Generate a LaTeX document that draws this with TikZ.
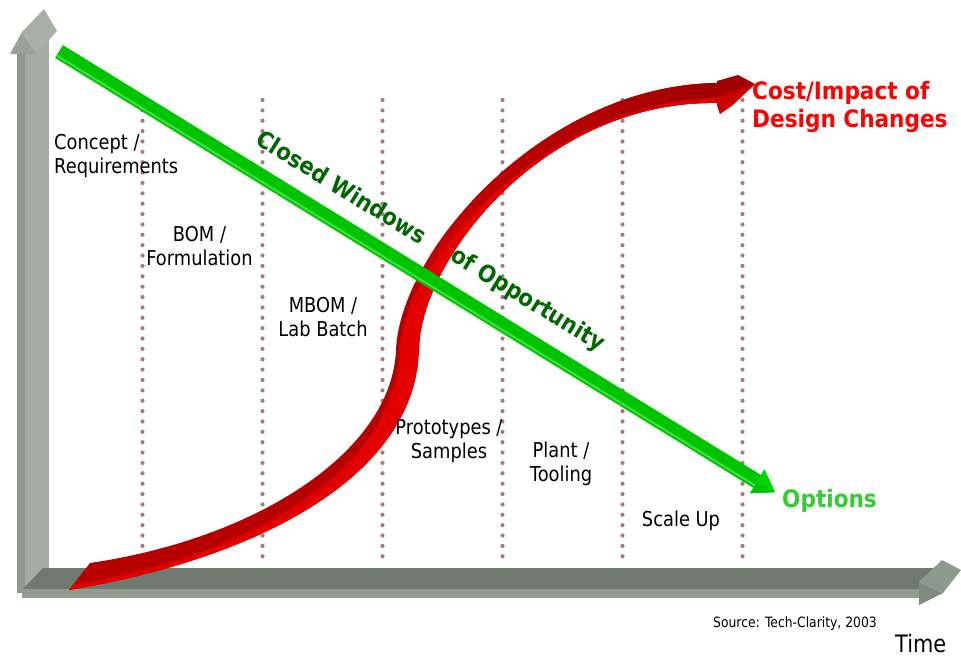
\documentclass[tikz,border=0pt]{standalone}
\usepackage{fontspec}
\setmainfont{DejaVu Sans}[FakeStretch=0.87,BoldFeatures={FakeStretch=0.9}]
\usetikzlibrary{calc}
\definecolor{vfront}{RGB}{165,173,162}
\definecolor{vside}{RGB}{143,152,140}
\definecolor{vheadL}{RGB}{152,161,149}
\definecolor{vheadR}{RGB}{168,176,165}
\definecolor{htop}{RGB}{111,121,111}
\definecolor{hfront}{RGB}{145,155,143}
\definecolor{hheadU}{RGB}{142,153,141}
\definecolor{hheadD}{RGB}{128,139,127}
\definecolor{dotc}{RGB}{166,122,132}
\definecolor{gbar}{RGB}{0,196,0}
\definecolor{ghi}{RGB}{60,226,60}
\definecolor{ghead}{RGB}{0,214,0}
\definecolor{dkgreen}{RGB}{0,102,0}
\definecolor{optgreen}{RGB}{51,204,51}
\definecolor{rdark}{RGB}{182,0,0}
\definecolor{rmid}{RGB}{196,0,0}
\definecolor{rdeep}{RGB}{160,0,0}
\definecolor{rbright}{RGB}{226,0,0}
\definecolor{rhead}{RGB}{205,0,0}
\definecolor{redtxt}{RGB}{255,0,0}
\begin{document}
\begin{tikzpicture}[x=1pt,y=-1pt,
  lbl/.style={font=\fontsize{20.5}{24}\selectfont, inner sep=0pt, align=center, text=black},
  bigbold/.style={font=\fontsize{24}{28}\selectfont\bfseries, inner sep=0pt},
  rottxt/.style={font=\fontsize{23.5}{28}\selectfont\bfseries, text=dkgreen, inner sep=0pt, rotate=-31.6},
  dotline/.style={draw=dotc, line width=4.2pt, line cap=round, dash pattern=on 0pt off 10.37pt}
  ]
\useasboundingbox (0,0) rectangle (961,656);
\fill[white] (0,0) rectangle (961,656);

% vertical axis
\fill[vside] (17,50) -- (25,50) -- (25,593) -- (17,593) -- cycle;
\fill[vfront] (25,40) -- (49,40) -- (49,590) -- (25,590) -- cycle;
\fill[vheadL] (10,54) -- (22,32) -- (36,54) -- cycle;
\fill[vheadR] (22,32) -- (44,9) -- (57,31) -- (36,54) -- cycle;

% horizontal axis
\fill[htop] (43,568) -- (934,568) -- (919,582) -- (919,589) -- (23,589) -- cycle;
\fill[hfront] (22,589) -- (919,589) -- (919,598) -- (22,598) -- cycle;
\fill[hheadU] (919,582) -- (942,560) -- (961,570) -- (943,593) -- cycle;
\fill[hheadD] (919,582) -- (943,593) -- (919,605) -- cycle;

% dotted phase lines
\foreach \xx in {142.5,262.5,382.5,502.5,622.5,742.5}
  \draw[dotline] (\xx,100) -- (\xx,557);

% red S-curve ribbon
\begin{scope}
\clip (90,563) .. controls (260,538) and (392,450) .. (396,350) .. controls (400,250) and (545,85) .. (717,83)
  -- (717,103) .. controls (548,100) and (421,255) .. (419,350) .. controls (415,480) and (250,560) .. (69,590) -- cycle;
\fill[rdark] (0,0) rectangle (961,656);
\shade[left color=rmid, right color=rdeep] (430,60) rectangle (730,300);
\fill[rbright] (70,585) .. controls (250,557) and (396,470) .. (400,350) .. controls (404,255) and (552,102) .. (717,98)
  -- (717,103) .. controls (548,100) and (421,255) .. (419,350) .. controls (415,480) and (250,560) .. (69,590) -- cycle;
\end{scope}
\fill[rdeep] (717,81) -- (738,75) -- (755,84) -- (720,114) -- (717,105) -- cycle;
\fill[rhead] (715,98) -- (755,84) -- (733,105) -- (720,114) -- cycle;

% green arrow
\coordinate (gS) at (59,51.5);
\coordinate (gT) at (775,492.4);
\coordinate (gB) at ($(gT)!21pt!(gS)$);
\coordinate (gSu) at ($(gS)!7.5pt!90:(gT)$);
\coordinate (gSd) at ($(gS)!7.5pt!-90:(gT)$);
\coordinate (gBu) at ($(gB)!7.5pt!90:(gT)$);
\coordinate (gBd) at ($(gB)!7.5pt!-90:(gT)$);
\coordinate (gHu) at ($(gB)!14pt!90:(gT)$);
\coordinate (gHd) at ($(gB)!14pt!-90:(gT)$);
\coordinate (gLs) at ($(gS)!4.5pt!-90:(gT)$);
\coordinate (gLe) at ($(gB)!4.5pt!-90:(gT)$);
\fill[gbar] (gSu) -- (gBu) -- (gHu) -- (gT) -- (gHd) -- (gBd) -- (gSd) -- cycle;
\draw[ghi, line width=2pt] (gLs) -- (gLe);
\fill[ghead] (gHu) -- (gT) -- (gB) -- cycle;

% labels
\node[lbl, anchor=north west, align=left] (concept) at (54,134.5) {Concept /\\Requirements};
\node[lbl, anchor=north] (bom) at (199.5,226.5) {BOM /\\Formulation};
\node[lbl, anchor=north] (mbom) at (323,297.5) {MBOM /\\Lab Batch};
\node[lbl, anchor=north] (proto) at (449,419.5) {Prototypes /\\Samples};
\node[lbl, anchor=north] (plant) at (561,441.5) {Plant /\\Tooling};
\node[lbl, anchor=base] (scale) at (681,526) {Scale Up};

\node[rottxt] (closed) at (342,187) {Closed Windows};
\node[rottxt] (opport) at (527.5,300.5) {of Opportunity};

\node[bigbold, text=redtxt, anchor=north west, align=left] (cost) at (752,80.8) {Cost/Impact of\\Design Changes};
\node[bigbold, text=optgreen, anchor=base west] (options) at (782,507) {Options};
\node[font=\fontsize{14.2}{17}\selectfont, inner sep=0pt, anchor=base west] (source) at (713,627) {Source: Tech-Clarity, 2003};
\node[font=\fontsize{24}{28}\selectfont, inner sep=0pt, anchor=base west] (time) at (895,652) {Time};
\end{tikzpicture}
\end{document}
